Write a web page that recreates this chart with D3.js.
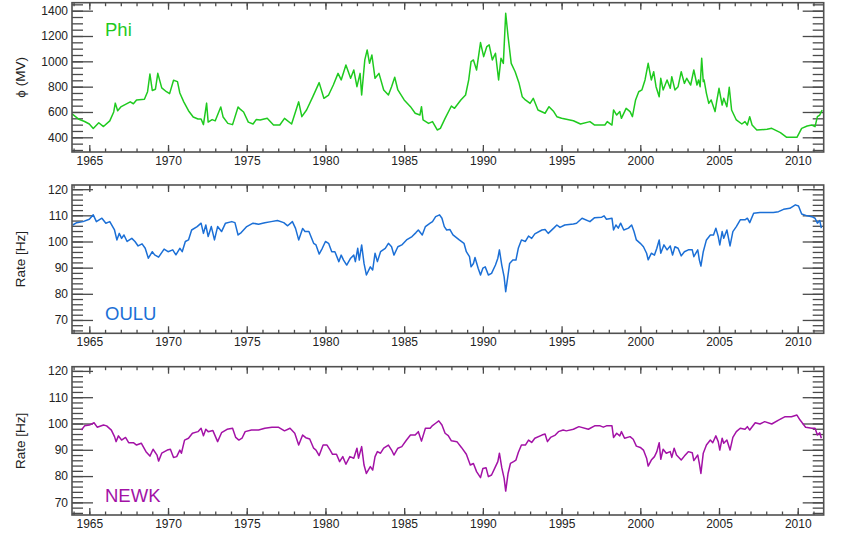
<!DOCTYPE html>
<html>
<head>
<meta charset="utf-8">
<script src="https://cdn.jsdelivr.net/npm/d3@7"></script>
<style>
  body { margin: 0; background: #fff; }
  svg { display: block; font-family: "Liberation Sans", Arial, Helvetica, sans-serif; }
</style>
</head>
<body>
<script>
// modulation potential phi (MV) and neutron monitor rates (Hz), [year, value]
const phi = [
  [1963.9,585],[1964.3,545],[1964.7,525],[1965.0,505],[1965.25,470],[1965.6,515],[1965.9,485],[1966.3,530],
  [1966.55,600],[1966.65,670],[1966.8,610],[1967.0,640],[1967.3,660],[1967.6,680],[1967.8,665],[1968.0,695],
  [1968.5,700],[1968.7,760],[1968.85,900],[1969.0,770],[1969.2,780],[1969.35,905],[1969.6,790],[1969.9,760],
  [1970.1,745],[1970.35,850],[1970.6,840],[1970.75,750],[1971.0,680],[1971.3,610],[1971.6,560],[1971.9,545],
  [1972.1,545],[1972.25,500],[1972.45,670],[1972.55,520],[1972.8,540],[1973.0,530],[1973.35,640],[1973.5,560],
  [1973.8,510],[1974.1,500],[1974.45,640],[1974.6,620],[1974.8,600],[1975.1,520],[1975.4,505],[1975.6,540],
  [1975.85,537],[1976.3,550],[1976.7,497],[1977.1,497],[1977.4,550],[1977.85,505],[1978.3,680],[1978.5,563],
  [1978.8,616],[1979.2,721],[1979.6,832],[1979.9,708],[1980.2,734],[1980.5,813],[1980.8,905],[1981.0,853],
  [1981.3,971],[1981.6,866],[1981.8,932],[1982.0,800],[1982.2,905],[1982.3,734],[1982.5,1011],[1982.65,1090],
  [1982.8,984],[1982.95,1050],[1983.15,866],[1983.4,905],[1983.7,774],[1984.0,734],[1984.2,800],[1984.4,874],
  [1984.6,774],[1985.0,695],[1985.4,642],[1985.7,590],[1986.0,576],[1986.1,642],[1986.2,537],[1986.55,510],
  [1986.8,524],[1987.1,458],[1987.3,471],[1987.6,550],[1988.0,647],[1988.2,629],[1988.6,695],[1988.9,734],
  [1989.1,853],[1989.25,998],[1989.4,1011],[1989.6,932],[1989.85,1148],[1990.05,1037],[1990.25,1117],[1990.4,1130],
  [1990.6,1011],[1990.8,1064],[1991.0,853],[1991.15,1024],[1991.3,984],[1991.45,1380],[1991.6,1196],[1991.8,984],
  [1992.05,918],[1992.3,826],[1992.5,721],[1992.7,695],[1993.0,668],[1993.2,708],[1993.5,616],[1993.95,590],
  [1994.2,642],[1994.5,603],[1994.7,563],[1995.0,550],[1995.75,531],[1996.2,505],[1996.8,524],[1997.1,497],
  [1997.75,497],[1997.9,524],[1998.2,497],[1998.3,616],[1998.5,576],[1998.7,603],[1998.8,550],[1999.1,629],
  [1999.35,603],[1999.5,563],[1999.7,695],[1999.9,760],[2000.1,774],[2000.3,853],[2000.5,984],[2000.7,853],
  [2000.85,918],[2001.0,800],[2001.2,721],[2001.3,866],[2001.45,774],[2001.7,853],[2001.9,787],[2002.0,879],
  [2002.2,774],[2002.4,800],[2002.6,918],[2002.8,826],[2002.95,866],[2003.2,813],[2003.4,932],[2003.6,813],
  [2003.7,853],[2003.8,800],[2003.9,1024],[2004.0,840],[2004.05,853],[2004.2,747],[2004.35,668],[2004.5,695],
  [2004.75,603],[2004.85,682],[2005.0,787],[2005.2,655],[2005.3,708],[2005.5,642],[2005.65,795],[2005.8,616],
  [2006.1,537],[2006.45,505],[2006.65,524],[2006.8,497],[2006.95,563],[2007.1,497],[2007.4,458],[2008.05,463],
  [2008.35,471],[2008.9,437],[2009.3,400],[2009.95,400],[2010.25,471],[2010.6,489],[2010.9,497],[2011.1,484],
  [2011.25,563],[2011.4,576],[2011.55,616]
]

const oulu = [
  [1963.95,106.3],[1964.2,107.2],[1964.6,107.6],[1965.0,108.5],[1965.25,110.2],[1965.45,107.6],[1965.8,108.9],
  [1966.05,107],[1966.3,107.6],[1966.6,104.4],[1966.75,100.6],[1966.9,103.1],[1967.05,101.2],[1967.2,102.5],
  [1967.4,100],[1967.7,101.2],[1967.9,100],[1968.1,98.3],[1968.35,99.1],[1968.55,97.4],[1968.75,93.6],
  [1969.0,96.1],[1969.15,94.9],[1969.4,94],[1969.75,97.1],[1970.0,96.1],[1970.3,96.8],[1970.5,94.9],
  [1970.75,97.4],[1970.9,96.1],[1971.1,100],[1971.3,100.6],[1971.5,104.4],[1971.85,105.7],[1972.1,107],
  [1972.25,103.1],[1972.4,106.3],[1972.55,101.9],[1972.75,105.7],[1972.95,100.6],[1973.15,105.7],[1973.4,103.8],
  [1973.65,107],[1974.05,107.6],[1974.25,107.2],[1974.45,102.5],[1974.65,103.4],[1975.0,105.7],[1975.4,107],
  [1975.75,106.6],[1976.15,107.2],[1976.55,107.6],[1976.95,108],[1977.35,107.2],[1977.6,106],[1977.9,107.6],
  [1978.1,105],[1978.3,100.6],[1978.55,105],[1978.7,103.8],[1978.95,103.8],[1979.25,99.3],[1979.4,98.7],
  [1979.6,95.2],[1979.8,97.4],[1980.0,100],[1980.2,99.3],[1980.4,96.1],[1980.6,96.1],[1980.85,92.3],
  [1981.0,94.8],[1981.15,92.9],[1981.35,91],[1981.6,93.6],[1981.8,94.8],[1981.9,92.3],[1982.05,97.4],
  [1982.15,92.9],[1982.3,98.7],[1982.45,91.6],[1982.6,87.2],[1982.85,90.3],[1983.0,89.1],[1983.15,95.5],
  [1983.3,92.3],[1983.5,96.1],[1983.8,97.4],[1984.0,99.3],[1984.2,98],[1984.35,94.8],[1984.6,98],
  [1984.85,98.7],[1985.15,100.6],[1985.5,101.9],[1985.75,103.4],[1985.9,104.4],[1986.15,102.5],[1986.35,105.7],
  [1986.65,107],[1986.8,107.6],[1987.0,109.5],[1987.25,110.2],[1987.4,108.9],[1987.55,105.7],[1987.7,104.4],
  [1987.9,104.6],[1988.1,102.5],[1988.5,100.6],[1988.8,99.3],[1988.95,96.1],[1989.15,94.2],[1989.25,90.3],
  [1989.4,91.6],[1989.5,93.9],[1989.7,89.8],[1989.85,87.2],[1990.0,89.8],[1990.15,90.3],[1990.35,87.2],
  [1990.55,87.8],[1990.8,91],[1990.95,93.6],[1991.05,96.8],[1991.2,91],[1991.35,86.5],[1991.45,80.8],
  [1991.6,87.2],[1991.7,91.6],[1991.9,92.9],[1992.1,92.9],[1992.25,97.4],[1992.45,100.6],[1992.7,100],
  [1992.9,102.1],[1993.1,101.2],[1993.3,102.9],[1993.75,104.4],[1993.95,104.6],[1994.15,103.1],[1994.5,105.1],
  [1994.7,106.3],[1994.9,105.4],[1995.2,106.3],[1995.75,106.7],[1995.95,107],[1996.3,108.9],[1996.8,107.6],
  [1997.1,109.1],[1997.55,109.3],[1997.7,109.8],[1997.85,108.5],[1998.2,108.9],[1998.3,104.4],[1998.45,106.3],
  [1998.6,105.1],[1998.75,107],[1998.95,104.4],[1999.25,105.1],[1999.45,106.3],[1999.6,103.8],[1999.75,100.6],
  [2000.0,99.3],[2000.2,98],[2000.4,95.5],[2000.5,93],[2000.7,95.5],[2000.9,94.8],[2001.05,97.4],
  [2001.2,100.6],[2001.3,95.5],[2001.5,98.7],[2001.7,96.8],[2001.9,98.3],[2002.05,94.8],[2002.2,98],
  [2002.4,97.4],[2002.6,94.5],[2002.8,96.1],[2003.05,96.8],[2003.3,96.8],[2003.4,94.2],[2003.65,96.8],
  [2003.75,93],[2003.85,90.6],[2004.0,96.1],[2004.2,100.6],[2004.45,102.5],[2004.65,102.5],[2004.8,105.1],
  [2004.95,101.9],[2005.05,98.7],[2005.2,103.8],[2005.3,101.2],[2005.5,104.4],[2005.7,98.3],[2005.88,103.8],
  [2006.1,105.7],[2006.35,108.3],[2006.65,108.3],[2006.8,108.9],[2006.95,107.2],[2007.2,110.8],[2007.6,111.1],
  [2008.45,111.1],[2008.78,111.4],[2009.1,112.3],[2009.5,112.7],[2009.85,114],[2010.05,113.6],[2010.25,110.5],
  [2010.6,109.8],[2010.9,109.5],[2011.1,108.9],[2011.25,107],[2011.4,108],[2011.5,105.1]
]

const newk = [
  [1964.5,97.5],[1964.7,99.1],[1965.0,99.4],[1965.3,100.3],[1965.5,98.6],[1965.9,99.4],[1966.1,99.1],
  [1966.4,97.5],[1966.6,95],[1966.7,93.1],[1966.85,95.3],[1967.05,93.7],[1967.3,94.7],[1967.5,92.7],
  [1967.8,92.7],[1968.0,91.8],[1968.3,92.5],[1968.6,89.3],[1968.85,87.6],[1969.05,90.2],[1969.3,88.0],
  [1969.4,85.7],[1969.6,88.7],[1969.95,89.9],[1970.15,90.2],[1970.35,87.1],[1970.55,87.4],[1970.75,89.9],
  [1970.85,88.7],[1971.05,93.7],[1971.3,94.4],[1971.55,96.3],[1971.9,96.9],[1972.1,98.2],[1972.25,95.3],
  [1972.4,97.8],[1972.55,96.9],[1972.85,97.3],[1973.15,93.1],[1973.4,96.5],[1973.75,97.8],[1974.1,98.2],
  [1974.3,94.7],[1974.5,93.7],[1974.7,94.4],[1974.9,96.9],[1975.3,97.5],[1975.75,97.5],[1976.15,98.2],
  [1976.6,98.6],[1977.0,98.6],[1977.4,97.2],[1977.75,98.2],[1978.05,96.3],[1978.3,91.8],[1978.55,95.6],
  [1978.75,94.6],[1979.0,94.1],[1979.25,90.6],[1979.4,89.9],[1979.6,87.8],[1979.85,91.8],[1980.1,91.8],
  [1980.3,89.9],[1980.45,88.3],[1980.7,88.3],[1980.9,85.5],[1981.1,87.4],[1981.3,84.5],[1981.55,87.4],
  [1981.8,86.8],[1982.0,90.6],[1982.1,86.8],[1982.3,91.2],[1982.45,84.2],[1982.6,81.0],[1982.85,83.6],
  [1983.0,82.3],[1983.15,87.4],[1983.3,89.3],[1983.5,88.7],[1983.7,90.6],[1984.0,91.8],[1984.2,89.9],
  [1984.35,88.0],[1984.6,90.6],[1984.85,91.2],[1985.15,93.7],[1985.4,95.6],[1985.7,95.6],[1985.9,96.9],
  [1986.1,93.3],[1986.35,98.2],[1986.65,98.2],[1986.8,99.2],[1987.0,100.1],[1987.2,101.0],[1987.4,99.4],
  [1987.6,96.3],[1987.8,95.4],[1988.0,93.4],[1988.35,93.1],[1988.65,90.8],[1988.95,88.3],[1989.2,84.2],
  [1989.4,84.8],[1989.6,81.7],[1989.85,79.4],[1990.0,82.9],[1990.2,83.2],[1990.35,79.8],[1990.55,80.4],
  [1990.8,83.6],[1990.95,85.5],[1991.05,88.7],[1991.2,83.2],[1991.35,79.1],[1991.45,74.3],[1991.6,81.0],
  [1991.75,84.8],[1991.95,85.5],[1992.1,86.1],[1992.25,89.0],[1992.45,91.8],[1992.7,91.8],[1992.9,93.7],
  [1993.1,92.8],[1993.3,94.4],[1993.75,95.6],[1993.95,96.0],[1994.1,93.1],[1994.3,94.7],[1994.6,95.6],
  [1994.8,96.9],[1995.1,97.5],[1995.3,97.2],[1995.75,97.8],[1996.1,98.8],[1996.7,97.8],[1997.1,99.1],
  [1997.45,99.1],[1997.65,98.6],[1997.85,99.1],[1998.2,99.1],[1998.3,94.7],[1998.5,96.3],[1998.7,95.3],
  [1998.8,96.9],[1999.0,94.4],[1999.35,95.0],[1999.55,94.0],[1999.75,91.4],[2000.0,90.9],[2000.2,89.9],
  [2000.4,86.8],[2000.5,83.8],[2000.7,86.1],[2000.9,87.4],[2001.05,89.3],[2001.2,92.7],[2001.3,86.4],
  [2001.45,90.2],[2001.65,88.7],[2001.9,89.3],[2002.0,87.1],[2002.15,90.6],[2002.3,88.0],[2002.6,86.1],
  [2002.8,87.6],[2003.05,89.3],[2003.3,88.9],[2003.4,85.9],[2003.65,88.0],[2003.75,84.8],[2003.85,81.0],
  [2004.0,88.7],[2004.2,91.8],[2004.45,93.7],[2004.6,92.7],[2004.8,95.3],[2004.95,93.1],[2005.05,89.9],
  [2005.2,94.4],[2005.3,92.5],[2005.5,93.7],[2005.7,89.9],[2005.88,94.7],[2006.1,96.9],[2006.35,98.2],
  [2006.65,97.8],[2006.8,98.8],[2006.95,97.5],[2007.3,100.3],[2007.6,99.8],[2007.9,100.7],[2008.35,99.8],
  [2008.78,101.3],[2009.2,102.6],[2009.6,102.6],[2009.95,103.2],[2010.15,101.3],[2010.5,98.6],[2010.9,98.2],
  [2011.1,98.2],[2011.25,95.6],[2011.4,96.5],[2011.5,94.4]
]

const yearTicks = [1965, 1970, 1975, 1980, 1985, 1990, 1995, 2000, 2005, 2010]
const phiTicks = [400, 600, 800, 1000, 1200, 1400]
const rateTicks = [70, 80, 90, 100, 110, 120]

const width = 847, height = 546
const left = 72, right = 823.7
const tickColor = '#4a4a4a'

let svg = d3.select('body').append('svg')
  .attr('width', width)
  .attr('height', height)

let x = d3.scaleLinear().domain([1963.9, 2011.65]).range([left, right])
const yearMinor = d3.range(1964, 2012, 1)

const panels = [
  { name: 'Phi', data: phi, color: '#1fca1f', top: 2.7, bottom: 152, domain: [284, 1463],
    ticks: phiTicks, minor: d3.range(300, 1451, 50), title: '\u03d5 (MV)', labelY: 36 },
  { name: 'OULU', data: oulu, color: '#1b6fd6', top: 185, bottom: 333.3, domain: [64.9, 121.6],
    ticks: rateTicks, minor: d3.range(66, 121, 2), title: 'Rate [Hz]', labelY: 319.5 },
  { name: 'NEWK', data: newk, color: '#a312a6', top: 366.7, bottom: 515, domain: [65.2, 121.6],
    ticks: rateTicks, minor: d3.range(66, 121, 2), title: 'Rate [Hz]', labelY: 502 }
]

function styleAxis(g) {
  g.select('.domain').remove()
  g.selectAll('.tick line').attr('stroke', tickColor).attr('stroke-width', 1.3)
  g.selectAll('.tick text').attr('fill', '#222').style('font-size', '12px')
}

panels.forEach((p, i) => {
  let y = d3.scaleLinear().domain(p.domain).range([p.bottom, p.top])
  let g = svg.append('g').attr('id', 'panel' + i)

  g.append('clipPath').attr('id', 'clip' + i)
    .append('rect')
    .attr('x', left).attr('y', p.top)
    .attr('width', right - left).attr('height', p.bottom - p.top)

  // minor ticks first, majors on top
  g.append('g').attr('transform', `translate(${left},0)`)
    .call(d3.axisLeft(y).tickValues(p.minor).tickSize(-11).tickFormat(''))
    .call(styleAxis)
  g.append('g').attr('transform', `translate(${right},0)`)
    .call(d3.axisRight(y).tickValues(p.minor).tickSize(-11).tickFormat(''))
    .call(styleAxis)
  g.append('g').attr('transform', `translate(${left},0)`)
    .call(d3.axisLeft(y).tickValues(p.ticks).tickSize(-21).tickPadding(4).tickFormat(d3.format('d')))
    .call(styleAxis)
  g.append('g').attr('transform', `translate(${right},0)`)
    .call(d3.axisRight(y).tickValues(p.ticks).tickSize(-21).tickFormat(''))
    .call(styleAxis)

  g.append('g').attr('transform', `translate(0,${p.bottom})`)
    .call(d3.axisBottom(x).tickValues(yearMinor).tickSize(-3.5).tickFormat(''))
    .call(styleAxis)
  g.append('g').attr('transform', `translate(0,${p.top})`)
    .call(d3.axisTop(x).tickValues(yearMinor).tickSize(-3.5).tickFormat(''))
    .call(styleAxis)
  g.append('g').attr('transform', `translate(0,${p.bottom})`)
    .call(d3.axisBottom(x).tickValues(yearTicks).tickSize(-7).tickPadding(4).tickFormat(d3.format('d')))
    .call(styleAxis)
  g.append('g').attr('transform', `translate(0,${p.top})`)
    .call(d3.axisTop(x).tickValues(yearTicks).tickSize(-7).tickFormat(''))
    .call(styleAxis)

  g.append('path')
    .datum(p.data)
    .attr('clip-path', `url(#clip${i})`)
    .attr('fill', 'none')
    .attr('stroke', p.color)
    .attr('stroke-width', 1.5)
    .attr('stroke-linejoin', 'round')
    .attr('d', d3.line().x(d => x(d[0])).y(d => y(d[1])))

  g.append('rect')
    .attr('x', left).attr('y', p.top)
    .attr('width', right - left).attr('height', p.bottom - p.top)
    .attr('fill', 'none')
    .attr('stroke', '#505050')
    .attr('stroke-width', 1.6)

  g.append('text')
    .attr('x', 105).attr('y', p.labelY)
    .attr('fill', p.color)
    .style('font-size', '18.5px')
    .text(p.name)

  g.append('text')
    .attr('transform', `translate(25,${(p.top + p.bottom) / 2})rotate(-90)`)
    .attr('text-anchor', 'middle')
    .attr('fill', '#222')
    .style('font-size', '13.5px')
    .text(p.title)
})
</script>
</body>
</html>
